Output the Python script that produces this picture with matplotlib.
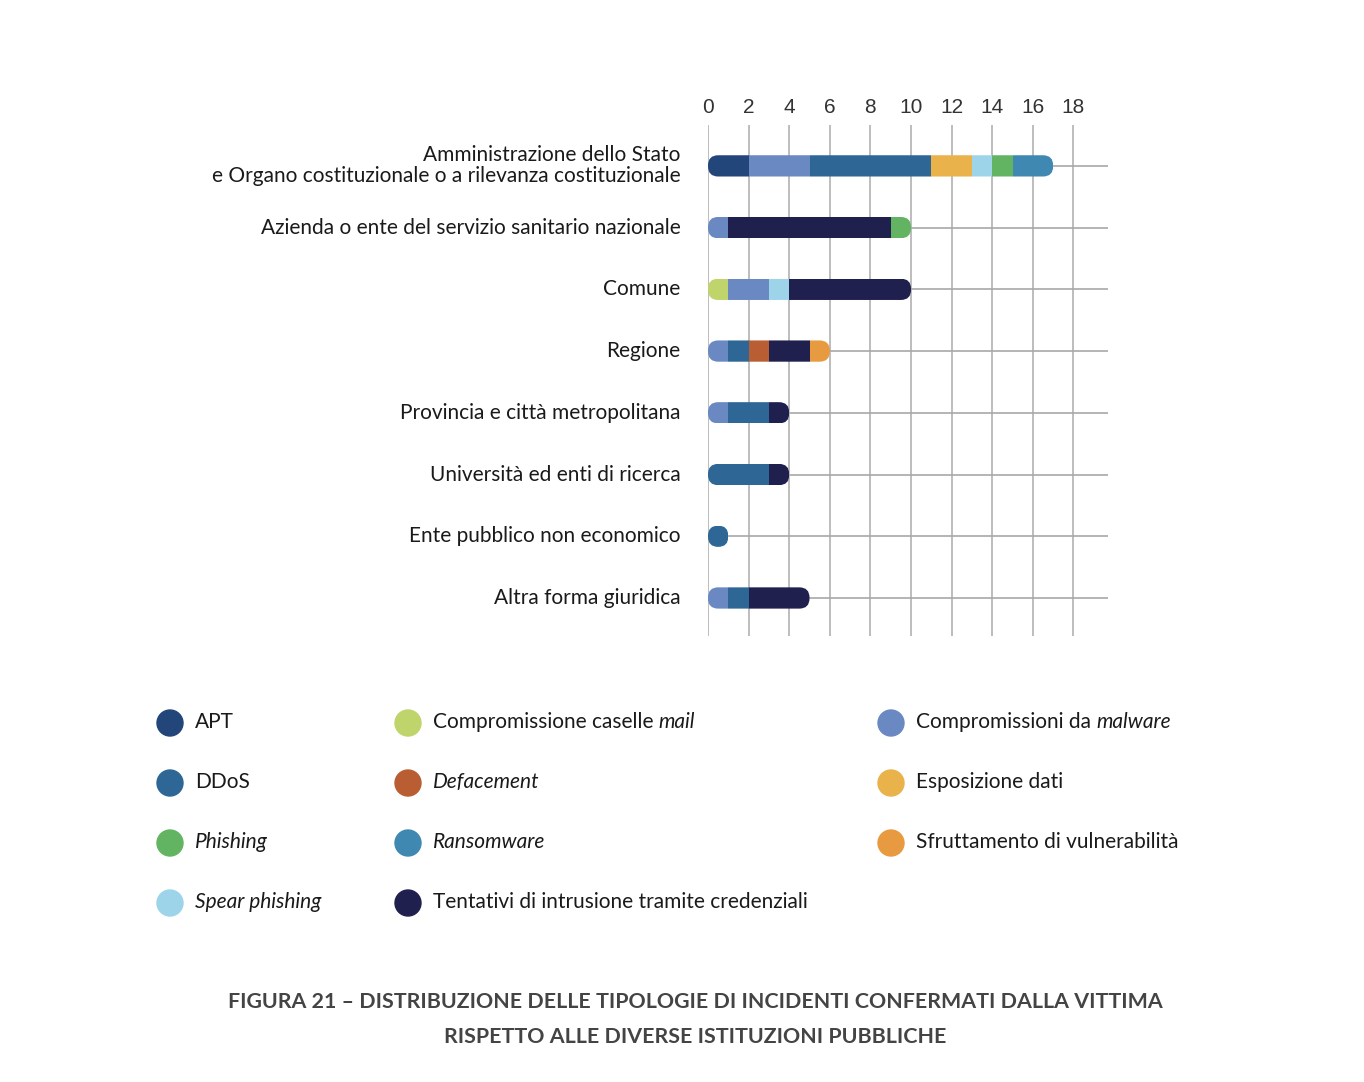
import matplotlib.pyplot as plt
from matplotlib.patches import FancyBboxPatch, Ellipse

plt.rcParams['font.family'] = ['Lato', 'DejaVu Sans']

# categories (top to bottom)
enti = ["Amministrazione dello Stato\ne Organo costituzionale o a rilevanza costituzionale",
        "Azienda o ente del servizio sanitario nazionale",
        "Comune",
        "Regione",
        "Provincia e città metropolitana",
        "Università ed enti di ricerca",
        "Ente pubblico non economico",
        "Altra forma giuridica"]

# incident types and their colours
colori = {"APT": "#22457a",
          "Compromissione caselle mail": "#bfd46a",
          "Compromissioni da malware": "#6a88c2",
          "DDoS": "#2e6696",
          "Defacement": "#b95d33",
          "Esposizione dati": "#e9b24a",
          "Phishing": "#62b462",
          "Ransomware": "#3f88b1",
          "Sfruttamento di vulnerabilità": "#e89a40",
          "Spear phishing": "#9dd4ea",
          "Tentativi di intrusione tramite credenziali": "#20204f"}

# segments per row, in drawing order (type, count)
amministrazione = [("APT", 2), ("Compromissioni da malware", 3), ("DDoS", 6),
                   ("Esposizione dati", 2), ("Spear phishing", 1),
                   ("Phishing", 1), ("Ransomware", 2)]
sanita = [("Compromissioni da malware", 1),
          ("Tentativi di intrusione tramite credenziali", 8), ("Phishing", 1)]
comune = [("Compromissione caselle mail", 1), ("Compromissioni da malware", 2),
          ("Spear phishing", 1), ("Tentativi di intrusione tramite credenziali", 6)]
regione = [("Compromissioni da malware", 1), ("DDoS", 1), ("Defacement", 1),
           ("Tentativi di intrusione tramite credenziali", 2),
           ("Sfruttamento di vulnerabilità", 1)]
provincia = [("Compromissioni da malware", 1), ("DDoS", 2),
             ("Tentativi di intrusione tramite credenziali", 1)]
universita = [("DDoS", 3), ("Tentativi di intrusione tramite credenziali", 1)]
ente_pubblico = [("DDoS", 1)]
altra = [("Compromissioni da malware", 1), ("DDoS", 1),
         ("Tentativi di intrusione tramite credenziali", 3)]
righe = [amministrazione, sanita, comune, regione, provincia, universita,
         ente_pubblico, altra]

xticks = list(range(0, 19, 2))

W, H = 1364, 1082
fig = plt.figure(figsize=(W / 100, H / 100), dpi=100)
fig.patch.set_facecolor("white")

ax = fig.add_axes([708 / W, 1 - 636 / H, 400 / W, 511 / H])
ax.set_xlim(0, 19.7)
ax.set_ylim(23, -2)
for s in ax.spines.values():
    s.set_visible(False)
ax.set_yticks([])
ax.xaxis.tick_top()
ax.set_xticks(xticks)
ax.tick_params(axis="x", length=0, pad=6, labelsize=15, labelcolor="#333333")
for lab in ax.get_xticklabels():
    lab.set_fontfamily(["Liberation Sans", "DejaVu Sans"])

for t in xticks:
    ax.axvline(t, color="#bdbdbd", lw=1.4, zorder=1)

for i, (nome, segs) in enumerate(zip(enti, righe)):
    y = i * 3.02
    ax.plot([0, 19.7], [y, y], color="#a8a8a8", lw=1.2, zorder=1)
    total = sum(n for _, n in segs)
    clip = FancyBboxPatch((0, y - 0.52), total, 1.04,
                          boxstyle="round,pad=0,rounding_size=0.5",
                          transform=ax.transData, facecolor="none",
                          edgecolor="none")
    ax.add_patch(clip)
    left = 0
    for tipo, n in segs:
        b = ax.barh(y, n, left=left, height=1.04, color=colori[tipo],
                    linewidth=0, zorder=3)
        for p in b:
            p.set_clip_path(clip)
        left += n
    ax.text(-1.35, y, nome, ha="right", va="center", fontsize=15,
            color="#1a1a1a", linespacing=1.05)

# legend with mixed normal / italic text
renderer = fig.canvas.get_renderer()
voci = [[("APT", "normal")],
        [("DDoS", "normal")],
        [("Phishing", "italic")],
        [("Spear phishing", "italic")],
        [("Compromissione caselle ", "normal"), ("mail", "italic")],
        [("Defacement", "italic")],
        [("Ransomware", "italic")],
        [("Tentativi di intrusione tramite credenziali", "normal")],
        [("Compromissioni da ", "normal"), ("malware", "italic")],
        [("Esposizione dati", "normal")],
        [("Sfruttamento di vulnerabilità", "normal")]]
chiavi = ["APT", "DDoS", "Phishing", "Spear phishing",
          "Compromissione caselle mail", "Defacement", "Ransomware",
          "Tentativi di intrusione tramite credenziali",
          "Compromissioni da malware", "Esposizione dati",
          "Sfruttamento di vulnerabilità"]
col_x = [170, 408, 891]
row_y = [721, 781, 841, 901]
for k, (chiave, pezzi) in enumerate(zip(chiavi, voci)):
    c = k // 4
    r = k % 4
    cx, cy = col_x[c], row_y[r]
    fig.patches.append(Ellipse((cx / W, 1 - (cy + 2) / H), 26 / W, 26 / H,
                               transform=fig.transFigure, color=colori[chiave]))
    x = (cx + 25) / W
    for testo, stile in pezzi:
        t = fig.text(x, 1 - (cy + 1) / H, testo, fontsize=15, style=stile,
                     color="#1a1a1a", va="center", ha="left")
        bb = t.get_window_extent(renderer)
        x += bb.width / W

fig.text(695 / W, 1 - 1002 / H,
         "FIGURA 21 – DISTRIBUZIONE DELLE TIPOLOGIE DI INCIDENTI CONFERMATI DALLA VITTIMA",
         ha="center", va="center", fontsize=15.4, fontweight="bold", color="#444444")
fig.text(695 / W, 1 - 1037 / H, "RISPETTO ALLE DIVERSE ISTITUZIONI PUBBLICHE",
         ha="center", va="center", fontsize=15.4, fontweight="bold", color="#444444")

fig.savefig("out.png", dpi=100)
